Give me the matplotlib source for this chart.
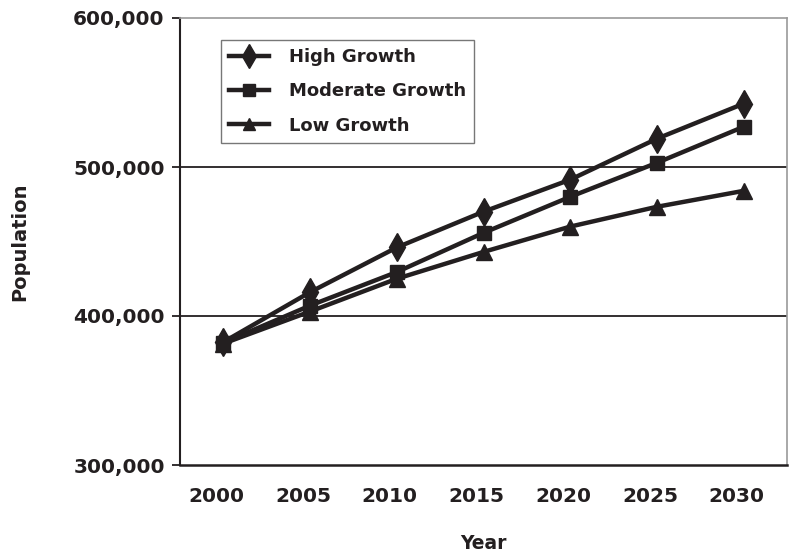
import matplotlib
matplotlib.use("Agg")
import matplotlib.pyplot as plt
from matplotlib.ticker import FuncFormatter
from matplotlib.transforms import ScaledTranslation

years = ["2000", "2005", "2010", "2015", "2020", "2025", "2030"]
high_growth = [382500, 416000, 446000, 470000, 491500, 519000, 542500]
moderate_growth = [382000, 407000, 429500, 455800, 480000, 502800, 527000]
low_growth = [381500, 403000, 425000, 443000, 460000, 473300, 484000]

plt.rcParams["font.family"] = ["DejaVu Sans"]

fig = plt.figure(figsize=(7.91, 5.55), dpi=100)
ax = fig.add_axes([180 / 791, 1 - 465 / 555, 607 / 791, 447 / 555])

x = list(range(len(years)))
ink = "#231f20"
ax.plot(x, high_growth, color=ink, lw=3.2, marker="d", ms=14, label="High Growth")
ax.plot(x, moderate_growth, color=ink, lw=3.2, marker="s", ms=9.5, label="Moderate Growth")
ax.plot(x, low_growth, color=ink, lw=3.2, marker="^", ms=11, label="Low Growth")

ax.set_xlim(-0.5, len(years) - 0.5)
ax.set_ylim(300000, 600000)
ax.set_yticks([300000, 400000, 500000, 600000])
ax.yaxis.set_major_formatter(FuncFormatter(lambda v, p: f"{int(v):,}"))
ax.set_xticks(x)
ax.set_xticklabels(years)

for y in (400000, 500000):
    ax.axhline(y, color=ink, lw=1.3, zorder=0)

ax.spines["left"].set_color(ink)
ax.spines["left"].set_linewidth(1.5)
ax.spines["bottom"].set_color(ink)
ax.spines["bottom"].set_linewidth(1.8)
for s in ("top", "right"):
    ax.spines[s].set_color("#999999")
    ax.spines[s].set_linewidth(1.2)

ax.tick_params(axis="y", direction="out", length=6, width=1.3, color=ink, pad=5)
ax.tick_params(axis="x", length=0, pad=16)
shift = ScaledTranslation(-7 / 100, 0, fig.dpi_scale_trans)
for lab in ax.get_xticklabels():
    lab.set_transform(lab.get_transform() + shift)
for lab in ax.get_yticklabels() + ax.get_xticklabels():
    lab.set_fontsize(14.5)
    lab.set_fontweight("bold")
    lab.set_color(ink)

ax.set_xlabel("Year", fontsize=13.5, fontweight="bold", color=ink, labelpad=20)
ax.set_ylabel("Population", fontsize=14, fontweight="bold", color=ink, labelpad=32)

leg = ax.legend(loc="upper left", bbox_to_anchor=(41 / 607, 1 - 22 / 447),
                frameon=True, fancybox=False, edgecolor="#555555",
                prop={"weight": "bold", "size": 13}, markerscale=0.85,
                handlelength=2.2, borderpad=0.45, labelspacing=0.9,
                handletextpad=1.1, borderaxespad=0)
leg.get_frame().set_linewidth(1.0)
for t in leg.get_texts():
    t.set_color(ink)

fig.savefig("out.png", dpi=100)
